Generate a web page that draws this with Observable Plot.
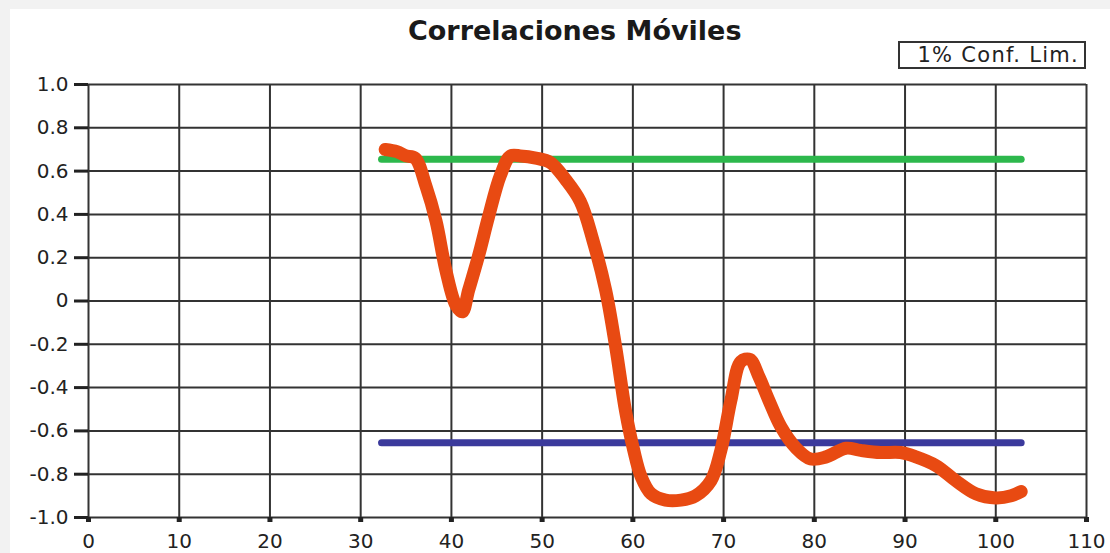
<!DOCTYPE html>
<html>
<head>
<meta charset="utf-8">
<script src="https://cdn.jsdelivr.net/npm/d3@7"></script>
<script src="https://cdn.jsdelivr.net/npm/@observablehq/plot@0.6"></script>
<style>
  html, body { margin: 0; padding: 0; background: #f2f2f2; }
  #wrap { position: relative; width: 1110px; height: 553px; overflow: hidden; }
  #panel { position: absolute; left: 10px; top: 9px; right: 0; bottom: 0; background: #fff; }
  #chart { position: absolute; left: 0; top: 0; }
  #title { position: absolute; left: 408px; top: 15px; white-space: nowrap;
           font: bold 27px "DejaVu Sans", Verdana, sans-serif; color: #1a1a1a; }
  #legend { position: absolute; left: 898px; top: 41px; width: 184px; height: 24px;
            border: 2px solid #333; background: #fff; white-space: nowrap;
            font: 21px "DejaVu Sans", Verdana, sans-serif; color: #222; line-height: 24px;
            letter-spacing: 1.3px; }
  #legend span { position: absolute; right: 5px; top: 0; }
</style>
</head>
<body>
<div id="wrap">
  <div id="panel"></div>
  <div id="chart"></div>
  <div id="title">Correlaciones Móviles</div>
  <div id="legend"><span>1% Conf. Lim.</span></div>
</div>
<script>
// Rolling correlation (window position vs. correlation coefficient)
const windowPos = [32.7, 34.0, 35.0, 36.0, 37.2, 38.3, 39.4, 40.5, 41.2, 41.9, 43.0, 44.1, 45.4, 46.5, 47.6,
  49.3, 50.9, 52.6, 54.2, 55.6, 57.0, 58.1, 59.2, 60.1, 60.9, 62.0, 63.6, 65.3, 66.9, 68.6, 69.7, 70.8,
  71.9, 72.9, 73.9, 75.0, 76.3, 78.0, 79.6, 81.3, 83.5, 85.1, 87.3, 89.5, 91.2, 93.4, 95.6, 97.8, 100.0,
  101.7, 102.8];
const correlation = [0.70, 0.69, 0.67, 0.66, 0.53, 0.37, 0.14, -0.02, -0.05, 0.05, 0.21, 0.39, 0.58, 0.67, 0.67,
  0.66, 0.64, 0.56, 0.46, 0.28, 0.05, -0.21, -0.51, -0.69, -0.81, -0.89, -0.92, -0.92, -0.90, -0.83, -0.69, -0.46,
  -0.28, -0.27, -0.35, -0.46, -0.58, -0.68, -0.73, -0.72, -0.68, -0.69, -0.70, -0.70, -0.72, -0.76, -0.83, -0.89, -0.91,
  -0.90, -0.88];

// 1% confidence limits
const limitRange = [32.3, 102.8];
const upperLimit = 0.655;
const lowerLimit = -0.655;

const xTicks = [0, 10, 20, 30, 40, 50, 60, 70, 80, 90, 100, 110];
const yTicks = [-1.0, -0.8, -0.6, -0.4, -0.2, 0, 0.2, 0.4, 0.6, 0.8, 1.0];

const series = windowPos.map((x, i) => ({x, y: correlation[i]}));
const upper = limitRange.map(x => ({x, y: upperLimit}));
const lower = limitRange.map(x => ({x, y: lowerLimit}));

const chart = Plot.plot({
  width: 1110,
  height: 553,
  marginLeft: 88,
  marginRight: 24,
  marginTop: 84,
  marginBottom: 36,
  style: {background: "transparent", fontFamily: "'DejaVu Sans', Verdana, sans-serif", fontSize: "20px", color: "#222"},
  x: {domain: [0, 110], label: null},
  y: {domain: [-1, 1], label: null},
  marks: [
    Plot.gridX(xTicks, {stroke: "#333", strokeOpacity: 1, strokeWidth: 2}),
    Plot.gridY(yTicks, {stroke: "#333", strokeOpacity: 1, strokeWidth: 2}),
    Plot.axisY(yTicks, {tickFormat: d => d === 0 ? "0" : d.toFixed(1), tickSize: 14, tickPadding: 6,
      stroke: "#222", strokeWidth: 3, fontSize: 20, label: null}),
    Plot.axisX(xTicks, {tickFormat: d => String(d), tickSize: 5, tickPadding: 11,
      stroke: "#222", strokeWidth: 5, fontSize: 20, label: null}),
    Plot.line(upper, {x: "x", y: "y", stroke: "#2db84c", strokeWidth: 7, strokeLinecap: "round"}),
    Plot.line(lower, {x: "x", y: "y", stroke: "#3b3a9c", strokeWidth: 7, strokeLinecap: "round"}),
    Plot.line(series, {x: "x", y: "y", stroke: "#e84a12", strokeWidth: 13, curve: "catmull-rom",
      strokeLinecap: "round", strokeLinejoin: "round"})
  ]
});
document.getElementById("chart").append(chart);
</script>
</body>
</html>
